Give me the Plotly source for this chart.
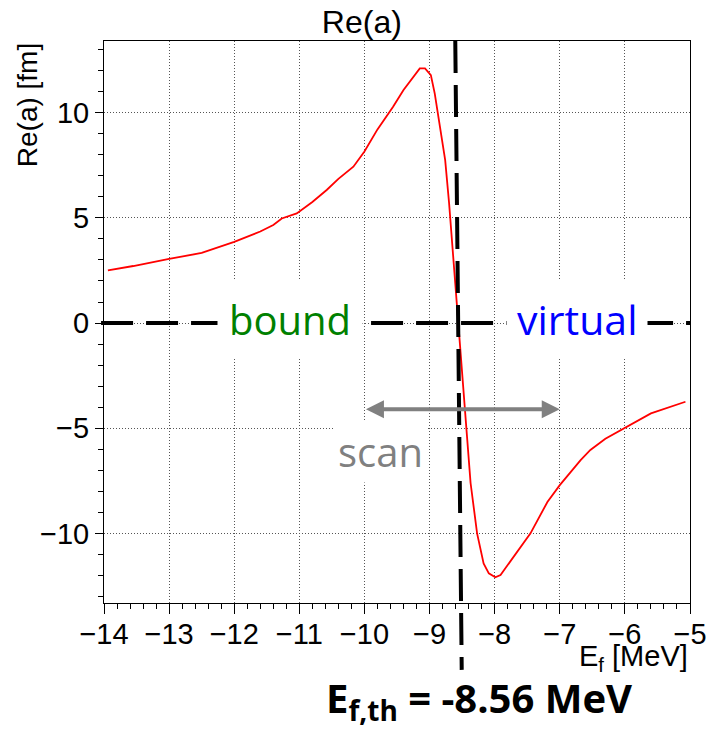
import plotly.graph_objects as go

# Re(a) as a function of E_f
ef = [-13.94, -13.55, -13.0, -12.5, -12.0, -11.6, -11.4, -11.27, -11.04, -10.8,
      -10.58, -10.4, -10.17, -10.0, -9.8, -9.56, -9.4, -9.25, -9.15, -9.07,
      -8.98, -8.92, -8.87, -8.82, -8.76, -8.70, -8.66, -8.62, -8.58, -8.53,
      -8.48, -8.42, -8.37, -8.27, -8.17, -8.09, -7.99, -7.91, -7.71, -7.45,
      -7.19, -7.0, -6.68, -6.53, -6.3, -6.01, -5.6, -5.07]
re_a = [2.50, 2.71, 3.05, 3.33, 3.86, 4.35, 4.66, 4.97, 5.21, 5.75,
        6.32, 6.85, 7.43, 8.15, 9.2, 10.28, 11.07, 11.7, 12.1, 12.1,
        11.78, 10.9, 9.96, 9.0, 7.74, 5.7, 4.1, 2.5, 0.9, -1.2,
        -3.4, -5.8, -7.6, -9.99, -11.42, -11.89, -12.08, -11.97, -11.1, -9.99,
        -8.5, -7.7, -6.51, -6.03, -5.5, -5.0, -4.29, -3.74]

x_range = [-14, -5]
y_range = [-13.3, 13.4]

E_th = -8.56          # threshold energy [MeV]
scan_range = [-10, -7]
scan_y = -4.1

ROOT_FONT = "Liberation Sans, Arial, Helvetica, sans-serif"
SLIDE_FONT = "Open Sans, Noto Sans, sans-serif"

fig = go.Figure()
fig.add_trace(go.Scatter(x=ef, y=re_a, mode="lines",
                         line=dict(color="#ff0000", width=1.8),
                         showlegend=False, hoverinfo="skip"))

axis_common = dict(
    showline=True, mirror=True, linecolor="black", linewidth=1,
    showgrid=True, gridcolor="#555555", gridwidth=1, griddash="1px,2px",
    zeroline=False, ticks="outside", tickcolor="black", tickwidth=1,
    tickfont=dict(family=ROOT_FONT, size=29, color="black"),
    automargin=False, ticklabeloverflow="allow",
)

fig.update_xaxes(range=x_range, dtick=1, tick0=-14, ticklen=10,
                 ticklabelstandoff=-5,
                 minor=dict(dtick=0.2, ticks="outside", ticklen=5,
                            tickcolor="black", showgrid=False),
                 **axis_common)
fig.update_yaxes(range=y_range, dtick=5, tick0=0, ticklen=8,
                 minor=dict(dtick=1, ticks="outside", ticklen=5,
                            tickcolor="black", showgrid=False),
                 **axis_common)

# threshold marker, running from the frame top down past the axis labels
span = x_range[1] - x_range[0]
th_frac = (E_th - x_range[0]) / span
fig.add_shape(type="line", xref="paper", yref="paper",
              x0=th_frac - 0.005, y0=1.0, x1=th_frac + 0.006, y1=-0.119,
              line=dict(color="black", width=4, dash="32px,12px"))
# Re(a) = 0 reference line
fig.add_shape(type="line", xref="paper", yref="y",
              x0=-0.005, y0=0, x1=1.0, y1=0,
              line=dict(color="black", width=4, dash="32px,13px"))

annotations = [
    # axis titles
    dict(text="Re(a) [fm]", xref="paper", yref="paper", x=-0.131, y=1.0,
         xanchor="center", yanchor="top", textangle=-90, showarrow=False,
         font=dict(family=ROOT_FONT, size=28, color="black")),
    dict(text="E<sub>f</sub> [MeV]", xref="paper", yref="paper", x=1.0, y=-0.098,
         xanchor="right", yanchor="middle", showarrow=False,
         font=dict(family=ROOT_FONT, size=29, color="black")),
    # region labels
    dict(text="bound", x=-11.14, y=0, xref="x", yref="y", showarrow=False,
         yshift=4, bgcolor="white", borderpad=11,
         font=dict(family=SLIDE_FONT, size=40, color="#008000")),
    dict(text="virtual", x=-6.74, y=0, xref="x", yref="y", showarrow=False,
         yshift=4, bgcolor="white", borderpad=10,
         font=dict(family=SLIDE_FONT, size=41, color="#0000ff")),
    # scan range
    dict(text="", x=scan_range[1], y=scan_y, ax=scan_range[0], ay=scan_y,
         xref="x", yref="y", axref="x", ayref="y", showarrow=True,
         arrowside="end+start", arrowhead=2, arrowsize=0.9, arrowwidth=4,
         arrowcolor="#808080", standoff=0, startstandoff=0),
    dict(text="scan", x=-9.76, y=-6.08, xref="x", yref="y", showarrow=False,
         bgcolor="white", borderpad=3,
         font=dict(family=SLIDE_FONT, size=40, color="#808080")),
    # threshold value
    dict(text="<b>E<sub>f,th</sub> = %.2f MeV</b>" % E_th,
         xref="paper", yref="paper", x=0.64, y=-0.172,
         xanchor="center", yanchor="middle", showarrow=False,
         font=dict(family=SLIDE_FONT, size=40, color="black")),
]

fig.update_layout(
    width=706, height=729,
    margin=dict(l=104, r=16, t=41, b=126),
    paper_bgcolor="white", plot_bgcolor="white",
    title=dict(text="Re(a)", x=0.44, xref="paper", xanchor="center",
               y=1 - 22 / 729, yref="container", yanchor="middle",
               font=dict(family=ROOT_FONT, size=32, color="black")),
    annotations=annotations,
    showlegend=False,
)

fig.write_html("out.html")
